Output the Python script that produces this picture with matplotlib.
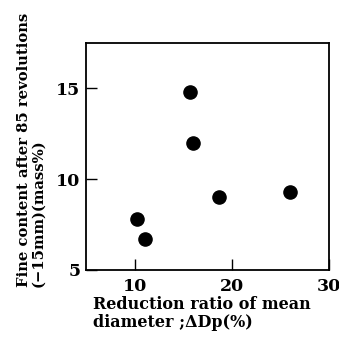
import matplotlib
matplotlib.use("Agg")
import matplotlib.pyplot as plt

# values
reduction_ratio = [15.7, 16.0, 18.7, 26.0, 10.2, 11.1]
fine_content = [14.8, 12.0, 9.0, 9.3, 7.8, 6.7]

x_ticks = [10, 20, 30]
y_ticks = [5, 10, 15]

plt.rcParams["font.family"] = ["DejaVu Serif"]
plt.rcParams["font.weight"] = "bold"

W, H = 339, 340
fig = plt.figure(figsize=(W / 100, H / 100), dpi=100)
ax = fig.add_axes([86 / W, 1 - 270 / H, (329 - 86) / W, (270 - 43) / H])

ax.scatter(reduction_ratio, fine_content, s=90, color="black", zorder=3)

ax.set_xlim(5, 30)
ax.set_ylim(5, 17.5)
ax.set_xticks(x_ticks)
ax.set_yticks(y_ticks)
ax.tick_params(direction="in", length=8, width=1, labelsize=12.5, pad=4)
ax.tick_params(axis="x", pad=6)
for lab in ax.get_xticklabels() + ax.get_yticklabels():
    lab.set_fontweight("bold")
for sp in ax.spines.values():
    sp.set_linewidth(1.3)

fig.text(31 / W, 1 - 287 / H, "Fine content after 85 revolutions\n(\u221215mm)(mass%)",
         rotation=90, ha="center", va="bottom", multialignment="left",
         fontsize=10.6, fontweight="bold", linespacing=1.05)
fig.text(93 / W, 1 - 296 / H, "Reduction ratio of mean\ndiameter ;\u0394Dp(%)",
         ha="left", va="top", fontsize=11.5, fontweight="bold", linespacing=1.1)

fig.savefig("out.png", dpi=100)
